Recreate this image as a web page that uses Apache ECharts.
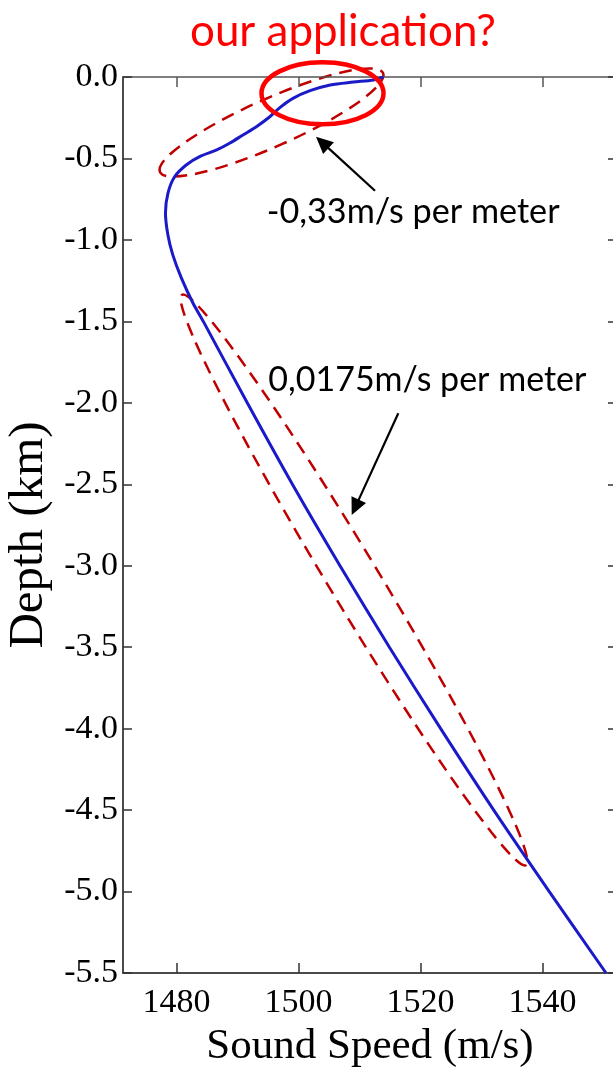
<!DOCTYPE html>
<html>
<head>
<meta charset="utf-8">
<script src="https://cdn.jsdelivr.net/npm/echarts@6/dist/echarts.min.js"></script>
<style>
html,body{margin:0;padding:0;background:#fff;}
#c{width:613px;height:1068px;}
</style>
</head>
<body>
<div id="c"></div>
<script>
// ---- data ----
const depthKm = [0, -0.018, -0.031, -0.049, -0.084, -0.131, -0.186, -0.244, -0.305, -0.356,
  -0.407, -0.448, -0.489, -0.540, -0.612, -0.714, -0.835, -0.970, -1.092, -1.233,
  -1.387, -1.5, -2.0, -2.5, -3.0, -3.5, -4.0, -4.5, -5.0, -5.5];
const soundSpeed = [1513.9, 1512.3, 1509.0, 1505.2, 1501.9, 1499.1, 1497.0, 1495.3, 1493.1, 1490.9,
  1488.7, 1486.6, 1483.8, 1481.6, 1479.7, 1478.6, 1478.2, 1478.6, 1479.4, 1480.8,
  1482.7, 1484.4, 1491.6, 1499.0, 1506.8, 1514.9, 1523.3, 1532.0, 1541.1, 1550.4];
const speedTicks = [1480, 1500, 1520, 1540];
const depthMin = -5.5, depthMax = 0, depthStep = 0.5;
const speedMin = 1471.24, speedMax = 1552.2;

const titleText = 'our application?';
const note1 = '-0,33m/s per meter';
const note2 = '0,0175m/s per meter';
const xName = 'Sound Speed (m/s)';
const yName = 'Depth (km)';

// ---- build ----
const points = depthKm.map((d, i) => [soundSpeed[i], d]);
const serif = '"Liberation Serif", "Times New Roman", serif';
const sans = 'Lato, "Open Sans", sans-serif';

function measure(text, font) {
  const ctx = document.createElement('canvas').getContext('2d');
  ctx.font = font;
  return ctx.measureText(text).width;
}
function fitSize(text, family, width) {
  return 100 * width / measure(text, '100px ' + family);
}

function arrow(x1, y1, x2, y2) {
  const dx = x2 - x1, dy = y2 - y1, L = Math.hypot(dx, dy);
  const ux = dx / L, uy = dy / L, hl = 17, hw = 8;
  const bx = x2 - ux * hl, by = y2 - uy * hl;
  return [
    {type: 'line', shape: {x1: x1, y1: y1, x2: bx + ux * 2, y2: by + uy * 2},
     style: {stroke: '#000', lineWidth: 2.2}},
    {type: 'polygon', shape: {points: [[x2, y2], [bx - uy * hw, by + ux * hw], [bx + uy * hw, by - ux * hw]]},
     style: {fill: '#000'}}
  ];
}

const axisColor = '#111';
const chart = echarts.init(document.getElementById('c'), null, {renderer: 'canvas'});

const tFs = 45;
const tFont = tFs + 'px ' + sans;
const tScale = 306 / measure(titleText, tFont);
const n1Fs = fitSize(note1, sans, 293);
const n2Fs = fitSize(note2, sans, 318);

const graphics = [
  {type: 'text', x: 190, y: 31.5, scaleX: tScale, originX: 0, originY: 0,
   style: {text: titleText, x: 0, y: 0, font: tFont, fill: '#ff0000', textAlign: 'left', textVerticalAlign: 'middle'}},
  {type: 'text', x: 266.7, y: 212, style: {text: note1, font: n1Fs.toFixed(1) + 'px ' + sans, fill: '#000', textAlign: 'left', textVerticalAlign: 'middle'}},
  {type: 'text', x: 268.3, y: 380, style: {text: note2, font: n2Fs.toFixed(1) + 'px ' + sans, fill: '#000', textAlign: 'left', textVerticalAlign: 'middle'}},
  {type: 'ellipse', x: 271.5, y: 122.5, rotation: 0.417, shape: {cx: 0, cy: 0, rx: 122, ry: 24},
   style: {fill: null, stroke: '#c00000', lineWidth: 2.5, lineDash: [13, 8]}},
  {type: 'ellipse', x: 354, y: 580, rotation: -1.028, shape: {cx: 0, cy: 0, rx: 333, ry: 25},
   style: {fill: null, stroke: '#c00000', lineWidth: 2.5, lineDash: [13, 8]}},
  {type: 'ellipse', x: 322.5, y: 93.3, shape: {cx: 0, cy: 0, rx: 61, ry: 31},
   style: {fill: null, stroke: '#ff0000', lineWidth: 4.5}, z: 100}
].concat(arrow(375, 190.7, 316, 136.7), arrow(398.3, 413.3, 351.7, 515));

const option = {
  animation: false,
  backgroundColor: '#fff',
  grid: {left: 123, top: 77, width: 494, height: 896, containLabel: false, outerBoundsMode: 'none'},
  xAxis: [
    {
      type: 'value', position: 'bottom', min: speedMin, max: speedMax,
      name: xName, nameLocation: 'middle', nameGap: 72,
      nameTextStyle: {fontFamily: serif, fontSize: 43, color: '#000', verticalAlign: 'middle'},
      axisLine: {show: true, onZero: false, lineStyle: {color: axisColor, width: 1.5}},
      axisTick: {show: true, inside: true, length: 10, customValues: speedTicks, lineStyle: {color: '#333', width: 1.5}},
      axisLabel: {customValues: speedTicks, fontFamily: serif, fontSize: 34, color: '#000', margin: 13,
                  formatter: v => String(Math.round(v))},
      splitLine: {show: false}
    },
    {
      type: 'value', position: 'top', min: speedMin, max: speedMax,
      axisLine: {show: true, onZero: false, lineStyle: {color: '#555', width: 1.5}},
      axisTick: {show: true, inside: true, length: 10, customValues: speedTicks, lineStyle: {color: '#555', width: 1.5}},
      axisLabel: {show: false},
      splitLine: {show: false}
    }
  ],
  yAxis: [
    {
      type: 'value', position: 'left', min: depthMin, max: depthMax, interval: depthStep,
      name: yName, nameLocation: 'middle', nameGap: 90, nameRotate: 90,
      nameTextStyle: {fontFamily: serif, fontSize: 49, color: '#000', verticalAlign: 'middle', padding: [0, 20, 0, 0]},
      axisLine: {show: true, onZero: false, lineStyle: {color: axisColor, width: 1.5}},
      axisTick: {show: true, inside: true, length: 9, lineStyle: {color: '#333', width: 1.5}},
      axisLabel: {fontFamily: serif, fontSize: 34, color: '#000', margin: 5, formatter: v => v.toFixed(1)},
      splitLine: {show: false}
    },
    {
      type: 'value', position: 'right', min: depthMin, max: depthMax, interval: depthStep,
      axisLine: {show: true, onZero: false, lineStyle: {color: axisColor, width: 1.5}},
      axisTick: {show: true, inside: true, length: 9, lineStyle: {color: '#333', width: 1.5}},
      axisLabel: {show: false},
      splitLine: {show: false}
    }
  ],
  series: [{
    type: 'line', xAxisIndex: 0, yAxisIndex: 0, data: points,
    smooth: 0.3, showSymbol: false, symbol: 'none',
    lineStyle: {color: '#1a1ac8', width: 3}
  }],
  graphic: graphics
};
chart.setOption(option);
</script>
</body>
</html>
